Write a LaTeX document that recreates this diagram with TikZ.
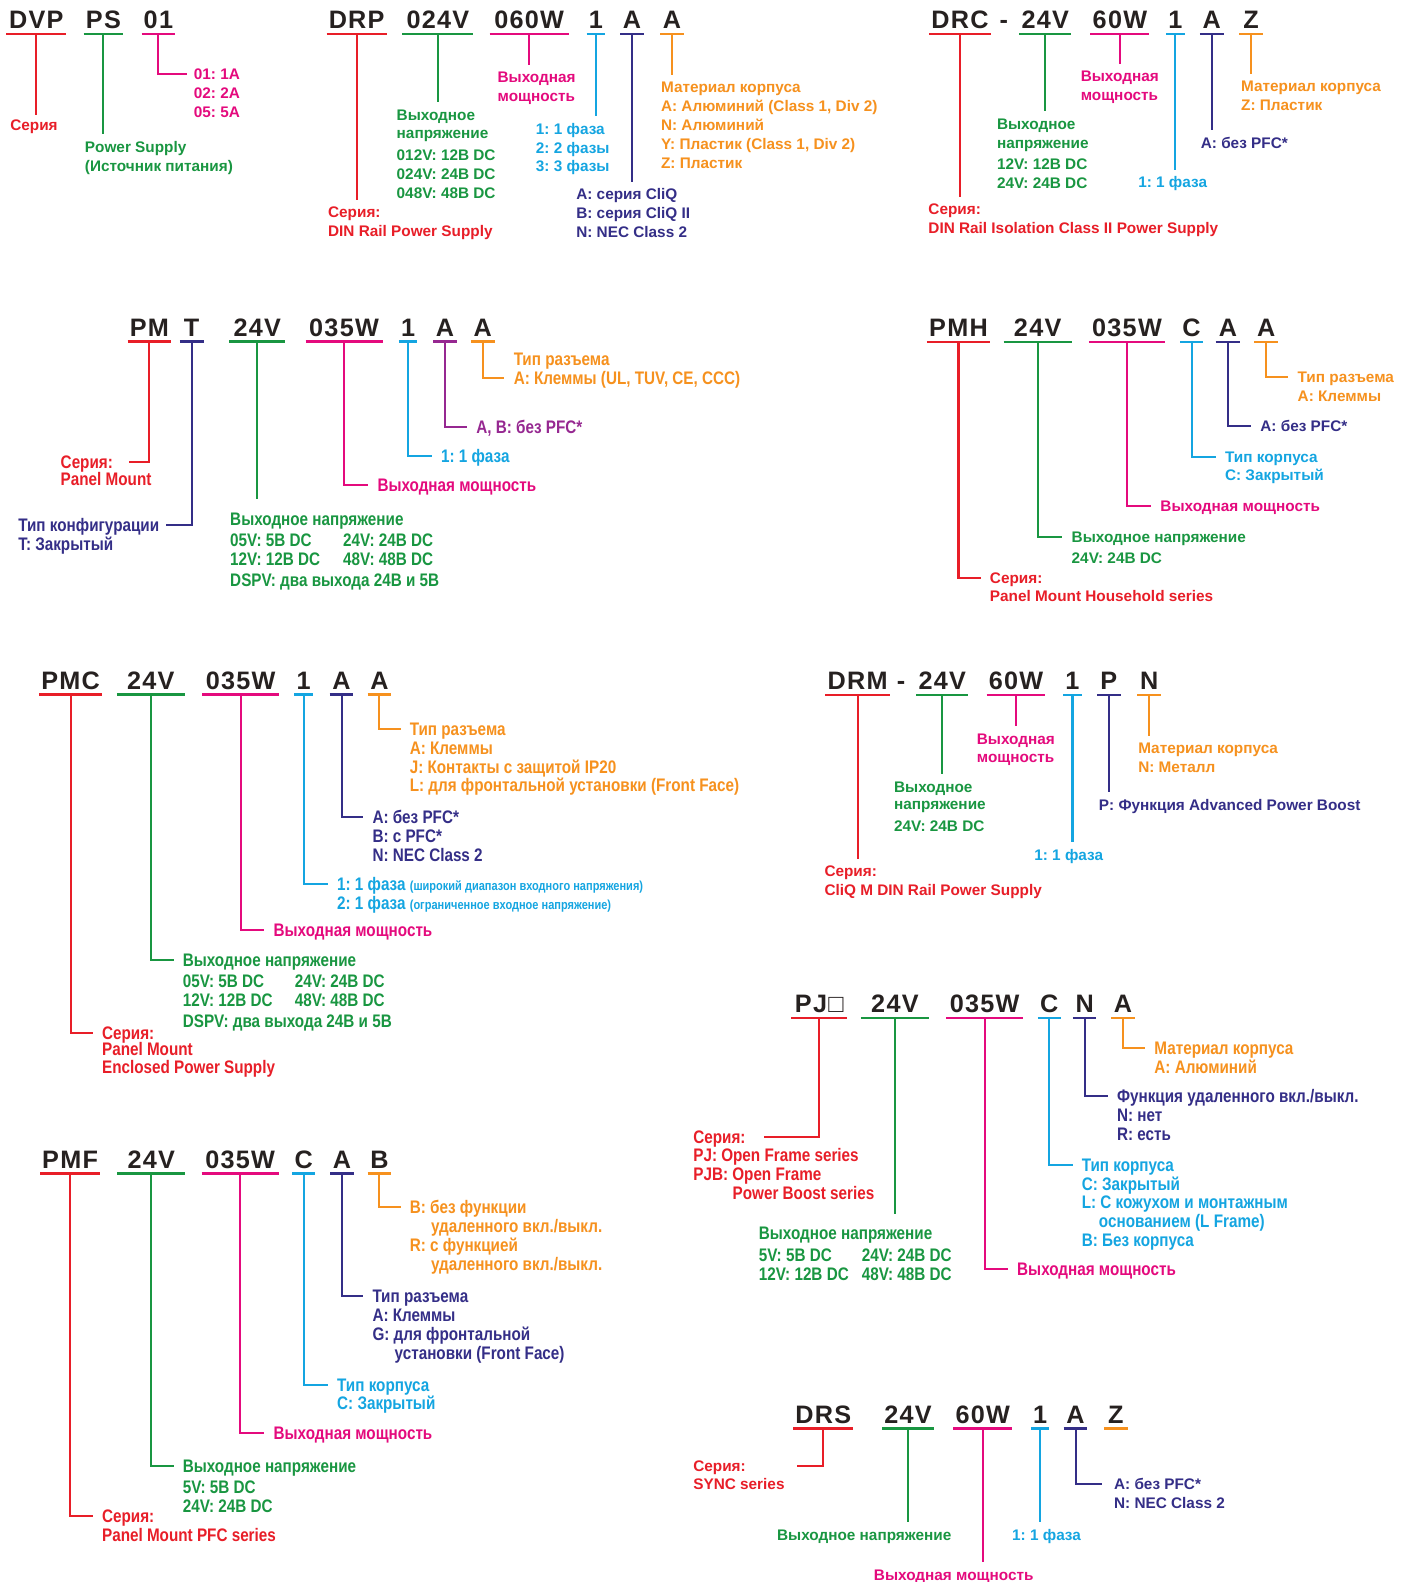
\documentclass[tikz,border=0pt]{standalone}
\usepackage{fontspec}
\setmainfont{Liberation Sans}
\newfontfamily\cndfont[FakeStretch=0.84]{Liberation Sans}
\newfontfamily\hdfont[LetterSpace=5]{Liberation Sans}
\usetikzlibrary{calc,positioning}
\definecolor{serC}{RGB}{232,30,40}
\definecolor{volC}{RGB}{25,150,65}
\definecolor{powC}{RGB}{228,10,125}
\definecolor{phC}{RGB}{20,165,225}
\definecolor{optC}{RGB}{52,46,135}
\definecolor{matC}{RGB}{246,145,30}
\definecolor{pfcC}{RGB}{150,40,145}
\definecolor{hdC}{RGB}{38,33,32}
\tikzset{
  series/.style={color=serC}, volt/.style={color=volC}, power/.style={color=powC},
  phase/.style={color=phC}, opt/.style={color=optC}, mat/.style={color=matC},
  pfc/.style={color=pfcC},
  hd/.style={font=\hdfont\bfseries\fontsize{25}{25}\selectfont, text=hdC, anchor=south,
    inner xsep=2pt, inner ysep=5pt, text depth=0pt},
  uline/.style={line width=2.4pt},
  wire/.style={line width=2pt, shorten >=7pt},
  lbl/.style={font=\bfseries\fontsize{15.2}{18.7}\selectfont, inner sep=0pt, anchor=base west,
    text height=10.8pt, text depth=0pt},
  more/.style={font=\bfseries\fontsize{15.2}{18.7}\selectfont, inner sep=0pt, anchor=base west,
    text width=420pt, align=flush left},
  lbc/.style={lbl, font=\cndfont\bfseries\fontsize{18}{18.7}\selectfont, text height=12.9pt},
  morec/.style={more, font=\cndfont\bfseries\fontsize{18}{18.7}\selectfont},
}
\newcommand\tinynote[1]{{\fontsize{13}{14}\selectfont #1}}
\begin{document}
\frenchspacing
\begin{tikzpicture}[x=1pt, y=-1pt]
  \fill[white] (0,0) rectangle (1400,1568);
  \useasboundingbox (0,0) rectangle (1400,1568);

  % DVP PS 01
  \foreach \nm/\txt/\xx/\ww/\col in {h1a/DVP/36/59/series, h1b/PS/102.5/37/volt, h1c/01/157/32/power}{
    \node[hd, minimum width=\ww pt] (\nm) at (\xx,33.5) {\txt};
    \draw[uline,\col] (\nm.south west) -- (\nm.south east);
  }
  \node[lbl,series] (l1a) at (10,129) {Серия};
  \node[lbl,volt] (l1b) at (84,151) {Power Supply};
  \node[more,volt] (l1b2) at ([yshift=-19pt]l1b.base west) {(Источник питания)};
  \node[lbl,power] (l1c) at (192,79) {01: 1A};
  \node[more,power] (l1c2) at ([yshift=-18.7pt]l1c.base west) {02: 2A\\05: 5A};
  \draw[wire,series,shorten >=4pt] (h1a.south) -- (h1a.south |- l1a.north);
  \draw[wire,volt] (h1b.south) -- (h1b.south |- l1b.north);
  \draw[wire,power] (h1c.south) |- (l1c.west);

  % DRP 024V 060W 1 A A
  \foreach \nm/\txt/\xx/\ww/\col in {h2a/DRP/353.5/58/series, h2b/024V/434/70/volt,
      h2c/060W/524.5/78/power, h2d/1/590.5/16/phase, h2e/A/626.5/23/opt, h2f/A/666/23/mat}{
    \node[hd, minimum width=\ww pt] (\nm) at (\xx,33.5) {\txt};
    \draw[uline,\col] (\nm.south west) -- (\nm.south east);
  }
  \node[lbl,series] (l2a) at (325,216) {Серия:};
  \node[more,series] (l2a2) at ([yshift=-18.7pt]l2a.base west) {DIN Rail Power Supply};
  \node[lbl,volt] (l2b) at (393,119) {Выходное};
  \node[more,volt] (l2b2) at ([yshift=-18.7pt]l2b.base west)
    {напряжение\\[3pt]012V: 12В DC\\024V: 24В DC\\048V: 48В DC};
  \node[lbl,power] (l2c) at (493,82) {Выходная};
  \node[more,power] (l2c2) at ([yshift=-18.7pt]l2c.base west) {мощность};
  \node[lbl,phase] (l2d) at (531,133) {1: 1 фаза};
  \node[more,phase] (l2d2) at ([yshift=-18.7pt]l2d.base west) {2: 2 фазы\\3: 3 фазы};
  \node[lbl,opt] (l2e) at (571,198) {A: серия CliQ};
  \node[more,opt] (l2e2) at ([yshift=-18.7pt]l2e.base west) {B: серия CliQ II\\N: NEC Class 2};
  \node[lbl,mat] (l2f) at (655,92) {Материал корпуса};
  \node[more,mat] (l2f2) at ([yshift=-18.7pt]l2f.base west)
    {A: Алюминий (Class 1, Div 2)\\N: Алюминий\\Y: Пластик (Class 1, Div 2)\\Z: Пластик};
  \foreach \a/\b/\col in {h2a/l2a/series, h2b/l2b/volt, h2c/l2c/power, h2d/l2d/phase,
      h2e/l2e/opt, h2f/l2f/mat}
    \draw[wire,\col] (\a.south) -- (\a.south |- \b.north);

  % DRC-24V 60W 1 A Z
  \foreach \nm/\txt/\xx/\ww/\col in {h3a/DRC/951.5/58/series, h3b/24V/1036/49/volt,
      h3c/60W/1110/58/power, h3d/1/1165/16/phase, h3e/A/1201/23/opt, h3f/Z/1240/23/mat}{
    \node[hd, minimum width=\ww pt] (\nm) at (\xx,33.5) {\txt};
    \draw[uline,\col] (\nm.south west) -- (\nm.south east);
  }
  \node[hd] (h3x) at (995,33.5) {-};
  \node[lbl,series] (l3a) at (920,213) {Серия:};
  \node[more,series] (l3a2) at ([yshift=-18.7pt]l3a.base west) {DIN Rail Isolation Class II Power Supply};
  \node[lbl,volt] (l3b) at (988,128) {Выходное};
  \node[more,volt] (l3b2) at ([yshift=-18.7pt]l3b.base west) {напряжение\\[3pt]12V: 12В DC\\24V: 24В DC};
  \node[lbl,power] (l3c) at (1071,81) {Выходная};
  \node[more,power] (l3c2) at ([yshift=-18.7pt]l3c.base west) {мощность};
  \node[lbl,phase] (l3d) at (1128,186) {1: 1 фаза};
  \node[lbl,opt] (l3e) at (1190,147) {A: без PFC*};
  \node[lbl,mat] (l3f) at (1230,91) {Материал корпуса};
  \node[more,mat] (l3f2) at ([yshift=-18.7pt]l3f.base west) {Z: Пластик};
  \foreach \a/\b/\col in {h3a/l3a/series, h3b/l3b/volt, h3c/l3c/power, h3d/l3d/phase,
      h3e/l3e/opt, h3f/l3f/mat}
    \draw[wire,\col] (\a.south) -- (\a.south |- \b.north);

  % PM T 24V 035W 1 A A
  \foreach \nm/\txt/\xx/\ww/\col in {h4a/PM/148/41/series, h4b/T/190/23/opt, h4c/24V/255/55/volt,
      h4d/035W/341/76/power, h4e/1/404.5/16/phase, h4f/A/441/23/pfc, h4g/A/478.5/23/mat}{
    \node[hd, minimum width=\ww pt] (\nm) at (\xx,338.5) {\txt};
    \draw[uline,\col] (\nm.south west) -- (\nm.south east);
  }
  \node[lbc,series] (l4a) at (60,464) {Серия:};
  \node[morec,series] (l4a2) at ([yshift=-17.5pt]l4a.base west) {Panel Mount};
  \node[lbc,opt] (l4b) at (18,527) {Тип конфигурации};
  \node[morec,opt] (l4b2) at ([yshift=-19pt]l4b.base west) {T: Закрытый};
  \node[lbc,volt] (l4c) at (228,521) {Выходное напряжение};
  \node[morec,volt] (l4c2) at ([yshift=-21pt]l4c.base west)
    {\makebox[112pt][l]{05V: 5В DC}24V: 24В DC\\\makebox[112pt][l]{12V: 12В DC}48V: 48В DC\\[1.5pt]DSPV: два выхода 24В и 5В};
  \node[lbc,power] (l4d) at (374,487) {Выходная мощность};
  \node[lbc,phase] (l4e) at (437,458) {1: 1 фаза};
  \node[lbc,pfc] (l4f) at (472,430) {A, B: без PFC*};
  \node[lbc,mat] (l4g) at (509,381) {A: Клеммы (UL, TUV, CE, CCC)};
  \node[lbc,mat] (l4h) at ([yshift=18.5pt]l4g.base west) {Тип разъема};
  \draw[wire,series,shorten >=16pt] (h4a.south) |- (l4a.east);
  \draw[wire,opt] (h4b.south) |- (l4b.east);
  \draw[wire,volt,shorten >=13pt] (h4c.south) -- (h4c.south |- l4c.north);
  \foreach \a/\b/\col in {h4d/l4d/power, h4e/l4e/phase, h4f/l4f/pfc, h4g/l4g/mat}
    \draw[wire,\col,shorten >=9pt] (\a.south) |- (\b.west);

  % PMH 24V 035W C A A
  \foreach \nm/\txt/\xx/\ww/\col in {h5a/PMH/950/60/series, h5b/24V/1028.5/67/volt,
      h5c/035W/1117/75/power, h5d/C/1181/22/phase, h5e/A/1217/24/opt, h5f/A/1255/23/mat}{
    \node[hd, minimum width=\ww pt] (\nm) at (\xx,339) {\txt};
    \draw[uline,\col] (\nm.south west) -- (\nm.south east);
  }
  \node[lbl,series] (l5a) at (981,578) {Серия:};
  \node[more,series] (l5a2) at ([yshift=-18.5pt]l5a.base west) {Panel Mount Household series};
  \node[lbl,volt] (l5b) at (1062,538) {Выходное напряжение};
  \node[more,volt] (l5b2) at ([yshift=-21pt]l5b.base west) {24V: 24В DC};
  \node[lbl,power] (l5c) at (1150,507) {Выходная мощность};
  \node[lbl,phase] (l5d) at (1214,458) {Тип корпуса};
  \node[more,phase] (l5d2) at ([yshift=-18.5pt]l5d.base west) {C: Закрытый};
  \node[lbl,opt] (l5e) at (1249,428) {A: без PFC*};
  \node[lbl,mat] (l5f) at (1286,379) {Тип разъема};
  \node[more,mat] (l5f2) at ([yshift=-18.5pt]l5f.base west) {A: Клеммы};
  \foreach \a/\b/\col in {h5a/l5a/series, h5b/l5b/volt, h5c/l5c/power, h5d/l5d/phase,
      h5e/l5e/opt, h5f/l5f/mat}
    \draw[wire,\col,shorten >=9pt] (\a.south) |- (\b.west);

  % PMC 24V 035W 1 A A
  \foreach \nm/\txt/\xx/\ww/\col in {h6a/PMC/70/60/series, h6b/24V/149.5/67/volt,
      h6c/035W/238.5/76/power, h6d/1/301/16/phase, h6e/A/338.5/23/opt, h6f/A/376/23/mat}{
    \node[hd, minimum width=\ww pt] (\nm) at (\xx,688.5) {\txt};
    \draw[uline,\col] (\nm.south west) -- (\nm.south east);
  }
  \node[lbc,series] (l6a) at (101,1030) {Серия:};
  \node[morec,series] (l6a2) at ([yshift=-16.5pt]l6a.base west) {Panel Mount\\[-1.7pt]Enclosed Power Supply};
  \node[lbc,volt] (l6b) at (181,958) {Выходное напряжение};
  \node[morec,volt] (l6b2) at ([yshift=-21pt]l6b.base west)
    {\makebox[111pt][l]{05V: 5В DC}24V: 24В DC\\\makebox[111pt][l]{12V: 12В DC}48V: 48В DC\\[1.5pt]DSPV: два выхода 24В и 5В};
  \node[lbc,power] (l6c) at (271,928) {Выходная мощность};
  \node[lbc,phase] (l6d) at (334,883) {1: 1 фаза \tinynote{(широкий диапазон входного напряжения)}};
  \node[morec,phase] (l6d2) at ([yshift=-18.5pt]l6d.base west) {2: 1 фаза \tinynote{(ограниченное входное напряжение)}};
  \node[lbc,opt] (l6e) at (369,816) {A: без PFC*};
  \node[morec,opt] (l6e2) at ([yshift=-18.7pt]l6e.base west) {B: с PFC*\\N: NEC Class 2};
  \node[lbc,mat] (l6f) at (406,729) {Тип разъема};
  \node[morec,mat] (l6f2) at ([yshift=-18.5pt]l6f.base west)
    {A: Клеммы\\J: Контакты с защитой IP20\\L: для фронтальной установки (Front Face)};
  \foreach \a/\b/\col in {h6a/l6a/series, h6b/l6b/volt, h6c/l6c/power, h6d/l6d/phase,
      h6e/l6e/opt, h6f/l6f/mat}
    \draw[wire,\col,shorten >=9pt] (\a.south) |- (\b.west);

  % DRM-24V 60W 1 P N
  \foreach \nm/\txt/\xx/\ww/\col in {h7a/DRM/850/60/series, h7b/24V/934/50/volt,
      h7c/60W/1007/58/power, h7d/1/1063/16/phase, h7e/P/1099/23/opt, h7f/N/1139/23/mat}{
    \node[hd, minimum width=\ww pt] (\nm) at (\xx,689) {\txt};
    \draw[uline,\col] (\nm.south west) -- (\nm.south east);
  }
  \node[hd] (h7x) at (893,689) {-};
  \node[lbl,series] (l7a) at (817,869) {Серия:};
  \node[more,series] (l7a2) at ([yshift=-18.5pt]l7a.base west) {CliQ M DIN Rail Power Supply};
  \node[lbl,volt] (l7b) at (886,785) {Выходное};
  \node[more,volt] (l7b2) at ([yshift=-17.5pt]l7b.base west) {напряжение\\[3pt]24V: 24В DC};
  \node[lbl,power] (l7c) at (968,738) {Выходная};
  \node[more,power] (l7c2) at ([yshift=-17.5pt]l7c.base west) {мощность};
  \node[lbl,phase] (l7d) at (1025,853) {1: 1 фаза};
  \node[lbl,opt] (l7e) at (1089,803) {P: Функция Advanced Power Boost};
  \node[lbl,mat] (l7f) at (1128,747) {Материал корпуса};
  \node[more,mat] (l7f2) at ([yshift=-18.5pt]l7f.base west) {N: Металл};
  \foreach \a/\b/\col in {h7a/l7a/series, h7b/l7b/volt, h7c/l7c/power, h7d/l7d/phase,
      h7e/l7e/opt, h7f/l7f/mat}
    \draw[wire,\col] (\a.south) -- (\a.south |- \b.north);

  % PJ 24V 035W C N A
  \foreach \nm/\txt/\xx/\ww/\col in {h8a/PJ□/812/55/series, h8b/24V/887/67/volt,
      h8c/035W/976/76/power, h8d/C/1040/22/phase, h8e/N/1075/23/opt, h8f/A/1113/23/mat}{
    \node[hd, minimum width=\ww pt] (\nm) at (\xx,1009) {\txt};
    \draw[uline,\col] (\nm.south west) -- (\nm.south east);
  }
  \node[lbc,series] (l8a) at (687,1133) {Серия:};
  \node[morec,series] (l8a2) at ([yshift=-18.5pt]l8a.base west)
    {PJ: Open Frame series\\PJB: Open Frame\\\hspace*{39pt}Power Boost series};
  \node[lbc,volt] (l8b) at (752,1229) {Выходное напряжение};
  \node[morec,volt] (l8b2) at ([yshift=-21pt]l8b.base west)
    {\makebox[102pt][l]{5V: 5В DC}24V: 24В DC\\\makebox[102pt][l]{12V: 12В DC}48V: 48В DC};
  \node[lbc,power] (l8c) at (1008,1264) {Выходная мощность};
  \node[lbc,phase] (l8d) at (1072,1161) {Тип корпуса};
  \node[morec,phase] (l8d2) at ([yshift=-18.5pt]l8d.base west)
    {C: Закрытый\\L: С кожухом и монтажным\\\hspace*{17pt}основанием (L Frame)\\B: Без корпуса};
  \node[lbc,opt] (l8e) at (1107,1093) {Функция удаленного вкл./выкл.};
  \node[morec,opt] (l8e2) at ([yshift=-19pt]l8e.base west) {N: нет\\R: есть};
  \node[lbc,mat] (l8f) at (1144,1045) {Материал корпуса};
  \node[morec,mat] (l8f2) at ([yshift=-18.5pt]l8f.base west) {A: Алюминий};
  \draw[wire,series,shorten >=18pt] (h8a.south) |- (l8a.east);
  \draw[wire,volt,shorten >=13pt] (h8b.south) -- (h8b.south |- l8b.north);
  \foreach \a/\b/\col in {h8c/l8c/power, h8d/l8d/phase, h8e/l8e/opt, h8f/l8f/mat}
    \draw[wire,\col,shorten >=9pt] (\a.south) |- (\b.west);

  % PMF 24V 035W C A B
  \foreach \nm/\txt/\xx/\ww/\col in {h9a/PMF/69.5/57/series, h9b/24V/150/67/volt,
      h9c/035W/238/76/power, h9d/C/301/22/phase, h9e/A/339/23/opt, h9f/B/376/23/mat}{
    \node[hd, minimum width=\ww pt] (\nm) at (\xx,1163) {\txt};
    \draw[uline,\col] (\nm.south west) -- (\nm.south east);
  }
  \node[lbc,series] (l9a) at (101,1509) {Серия:};
  \node[morec,series] (l9a2) at ([yshift=-18.5pt]l9a.base west) {Panel Mount PFC series};
  \node[lbc,volt] (l9b) at (181,1459) {Выходное напряжение};
  \node[morec,volt] (l9b2) at ([yshift=-21pt]l9b.base west) {5V: 5В DC\\24V: 24В DC};
  \node[lbc,power] (l9c) at (271,1427) {Выходная мощность};
  \node[lbc,phase] (l9d) at (334,1379) {Тип корпуса};
  \node[morec,phase] (l9d2) at ([yshift=-18.5pt]l9d.base west) {C: Закрытый};
  \node[lbc,opt] (l9e) at (369,1291) {Тип разъема};
  \node[morec,opt] (l9e2) at ([yshift=-18.7pt]l9e.base west)
    {A: Клеммы\\G: для фронтальной\\\hspace*{22pt}установки (Front Face)};
  \node[lbc,mat] (l9f) at (406,1203) {B: без функции};
  \node[morec,mat] (l9f2) at ([yshift=-18.7pt]l9f.base west)
    {\hspace*{21pt}удаленного вкл./выкл.\\R: с функцией\\\hspace*{21pt}удаленного вкл./выкл.};
  \foreach \a/\b/\col in {h9a/l9a/series, h9b/l9b/volt, h9c/l9c/power, h9d/l9d/phase,
      h9e/l9e/opt, h9f/l9f/mat}
    \draw[wire,\col,shorten >=9pt] (\a.south) |- (\b.west);

  % DRS 24V 60W 1 A Z
  \foreach \nm/\txt/\xx/\ww/\col in {h10a/DRS/816/58/series, h10b/24V/900/50/volt,
      h10c/60W/974/58/power, h10d/1/1031/16/phase, h10e/A/1066/23/opt, h10f/Z/1106/23/mat}{
    \node[hd, minimum width=\ww pt] (\nm) at (\xx,1416) {\txt};
    \draw[uline,\col] (\nm.south west) -- (\nm.south east);
  }
  \node[lbl,series] (l10a) at (687,1458) {Серия:};
  \node[more,series] (l10a2) at ([yshift=-18.5pt]l10a.base west) {SYNC series};
  \node[lbl,volt] (l10b) at (770,1527) {Выходное напряжение};
  \node[lbl,power] (l10c) at (866,1566) {Выходная мощность};
  \node[lbl,phase] (l10d) at (1003,1527) {1: 1 фаза};
  \node[lbl,opt] (l10e) at (1104,1476) {A: без PFC*};
  \node[more,opt] (l10e2) at ([yshift=-18.7pt]l10e.base west) {N: NEC Class 2};
  \draw[wire,series,shorten >=51pt] (h10a.south) |- (l10a.east);
  \foreach \a/\b/\col in {h10b/l10b/volt, h10c/l10c/power, h10d/l10d/phase}
    \draw[wire,\col] (\a.south) -- (\a.south |- \b.north);
  \draw[wire,opt,shorten >=12pt] (h10e.south) |- (l10e.west);
\end{tikzpicture}
\end{document}
